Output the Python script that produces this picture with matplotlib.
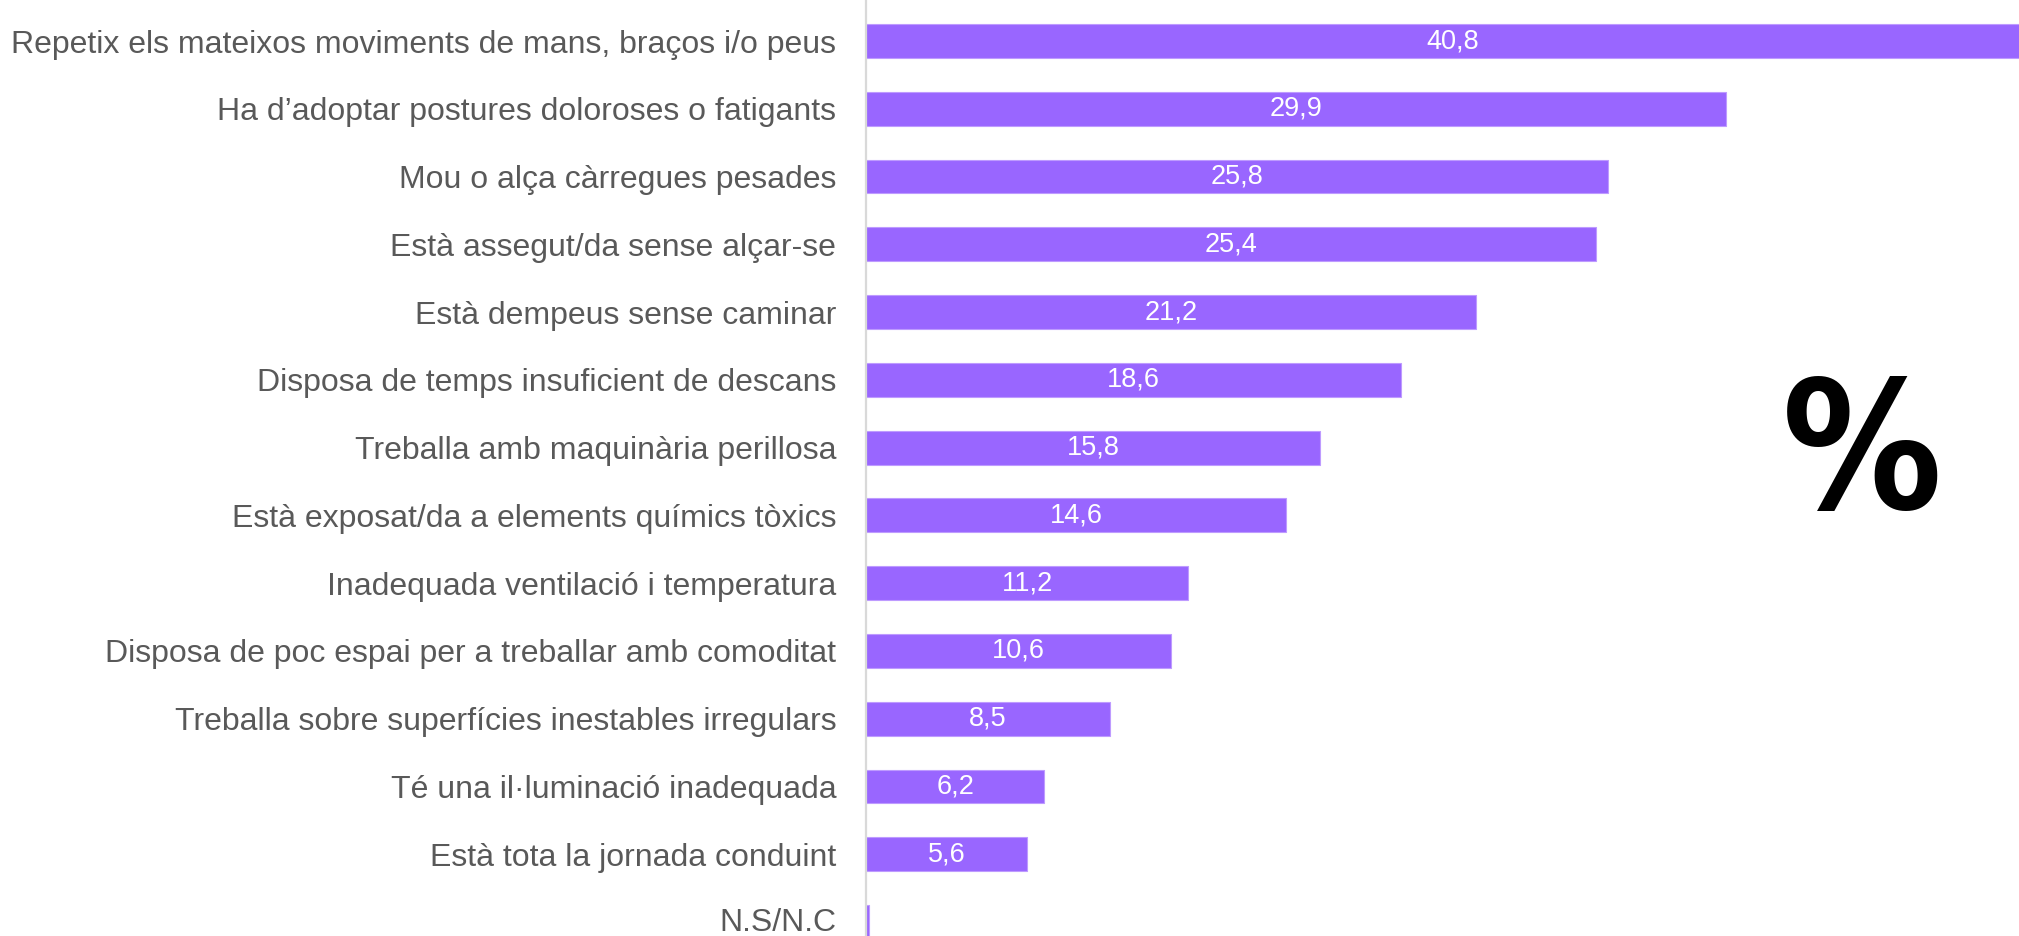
import matplotlib
matplotlib.use("Agg")
import matplotlib.pyplot as plt
from matplotlib.transforms import ScaledTranslation

categories = [
    "Repetix els mateixos moviments de mans, braços i/o peus",
    "Ha d\u2019adoptar postures doloroses o fatigants",
    "Mou o alça càrregues pesades",
    "Està assegut/da sense alçar-se",
    "Està dempeus sense caminar",
    "Disposa de temps insuficient de descans",
    "Treballa amb maquinària perillosa",
    "Està exposat/da a elements químics tòxics",
    "Inadequada ventilació i temperatura",
    "Disposa de poc espai per a treballar amb comoditat",
    "Treballa sobre superfícies inestables irregulars",
    "Té una il·luminació inadequada",
    "Està tota la jornada conduint",
    "N.S/N.C",
]
values = [40.8, 29.9, 25.8, 25.4, 21.2, 18.6, 15.8, 14.6, 11.2, 10.6, 8.5, 6.2, 5.6, 0.1]
value_labels = ["40,8", "29,9", "25,8", "25,4", "21,2", "18,6", "15,8", "14,6",
                "11,2", "10,6", "8,5", "6,2", "5,6", ""]

W, H = 2019, 936
fig = plt.figure(figsize=(W / 100, H / 100), dpi=100)
fig.patch.set_facecolor("white")

left = 866 / W
ax = fig.add_axes([left, 0.0, 1.0 - left, 1.0])
ax.set_facecolor("none")

ypos = list(range(len(categories)))
ax.barh(ypos, values, height=0.5, color="#9966FF", edgecolor="#BE9BFF",
        linewidth=0.8, zorder=2)

xmax = (W - 866) / 28.75
ax.set_xlim(0, xmax)
ax.set_ylim(13.206, -0.605)

for y, v, lab in zip(ypos, values, value_labels):
    if lab:
        ax.text(v / 2, y, lab, ha="center", va="center", color="white",
                fontsize=19.5, family="Liberation Sans", zorder=3, clip_on=False)

ax.set_yticks(ypos)
ax.set_yticklabels(categories, fontsize=23, color="#595959", family="Liberation Sans")
ax.tick_params(axis="y", length=0, pad=21.5)
ax.set_xticks([])
for s in ["top", "right", "bottom"]:
    ax.spines[s].set_visible(False)
ax.spines["left"].set_color("#D9D9D9")
ax.spines["left"].set_linewidth(1.6)

last = ax.get_yticklabels()[-1]
last.set_transform(last.get_transform() + ScaledTranslation(0, 3 / 100, fig.dpi_scale_trans))

fig.text(1862 / W, 1 - 458 / H, "%", ha="center", va="center", fontsize=128,
         fontweight="bold", fontstretch="condensed", family="DejaVu Sans",
         color="black")

fig.savefig("out.png", dpi=100, facecolor="white")
